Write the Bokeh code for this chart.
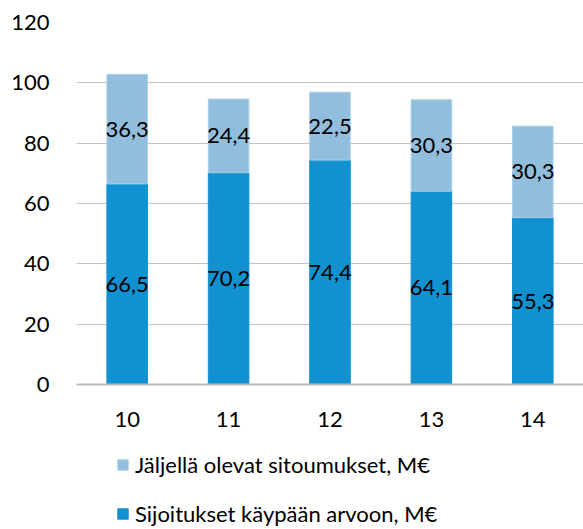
from bokeh.plotting import figure
from bokeh.layouts import column
from bokeh.models import ColumnDataSource, Legend, LegendItem, FactorRange
from bokeh.core.properties import value
from bokeh.embed import file_html
from bokeh.resources import INLINE

years = ["10", "11", "12", "13", "14"]
investments = [66.5, 70.2, 74.4, 64.1, 55.3]
commitments = [36.3, 24.4, 22.5, 30.3, 30.3]
y_ticks = [0, 20, 40, 60, 80, 100, 120]
name_inv = "Sijoitukset käypään arvoon, M€"
name_com = "Jäljellä olevat sitoumukset, M€"

FONT = "Lato"
FS = "22px"
C_INV = "#1191d0"
C_COM = "#92bedd"
C_COM_EDGE = "#a9d0ea"


def fmt(v):
    return f"{v:.1f}".replace(".", ",")


src = ColumnDataSource(dict(
    x=years,
    inv=investments,
    com=commitments,
    inv_mid=[v / 2 for v in investments],
    com_mid=[a + b / 2 for a, b in zip(investments, commitments)],
    inv_lbl=[fmt(v) for v in investments],
    com_lbl=[fmt(v) for v in commitments],
))

xr = FactorRange(*years, range_padding=0)

p = figure(
    x_range=xr, y_range=(0, 120),
    width=583, height=440,
    output_backend="svg", toolbar_location=None,
    min_border_left=76, min_border_right=0, min_border_top=22, min_border_bottom=56,
)
p.outline_line_color = None
p.background_fill_color = "white"
p.border_fill_color = "white"

rs = p.vbar_stack(["inv", "com"], x="x", width=0.4, source=src,
                  fill_color=[C_INV, C_COM], line_color=[C_INV, C_COM_EDGE], line_width=1)

for col, lbl in (("inv_mid", "inv_lbl"), ("com_mid", "com_lbl")):
    p.text(x="x", y=col, text=lbl, source=src, text_align="center", text_baseline="middle",
           text_font=value(FONT), text_font_size=FS, text_color="black")

p.xgrid.grid_line_color = None
p.ygrid.grid_line_color = "#c4c4c4"
p.ygrid.grid_line_width = 1

p.yaxis.ticker = y_ticks
p.yaxis.axis_line_color = None
p.yaxis.major_tick_line_color = None
p.yaxis.minor_tick_line_color = None
p.yaxis.major_tick_out = 0
p.yaxis.major_label_standoff = 27
p.yaxis.major_label_text_font = FONT
p.yaxis.major_label_text_font_size = FS
p.yaxis.major_label_text_color = "black"

p.xaxis.axis_line_color = "#bcbcbc"
p.xaxis.axis_line_width = 2
p.xaxis.major_tick_line_color = None
p.xaxis.minor_tick_line_color = None
p.xaxis.major_tick_out = 0
p.xaxis.major_label_standoff = 27
p.xaxis.major_label_text_font = FONT
p.xaxis.major_label_text_font_size = FS
p.xaxis.major_label_text_color = "black"

# legend-only strip below the chart
p2 = figure(
    x_range=xr, y_range=p.y_range,
    width=583, height=89,
    output_backend="svg", toolbar_location=None,
    min_border_left=0, min_border_right=0, min_border_top=0, min_border_bottom=0,
)
p2.axis.visible = False
p2.grid.visible = False
p2.outline_line_color = None
p2.background_fill_color = "white"
p2.border_fill_color = "white"
lr = p2.vbar_stack(["inv", "com"], x="x", width=0.4, source=src,
                   fill_color=[C_INV, C_COM], line_color=[C_INV, C_COM_EDGE], line_width=1)
for r in lr:
    r.visible = False

legend = Legend(
    items=[LegendItem(label=name_com, renderers=[lr[1]]),
           LegendItem(label=name_inv, renderers=[lr[0]])],
    location=(40, 2),
    orientation="vertical",
    border_line_color=None,
    background_fill_alpha=0,
    inactive_fill_alpha=0,
    padding=0, margin=0, spacing=22,
    glyph_width=13, glyph_height=13, label_standoff=6, label_height=24,
    label_text_font=FONT, label_text_font_size=FS, label_text_color="black",
)
p2.add_layout(legend)

layout = column(p, p2, spacing=0)
open("out.html", "w").write(file_html(layout, INLINE))
